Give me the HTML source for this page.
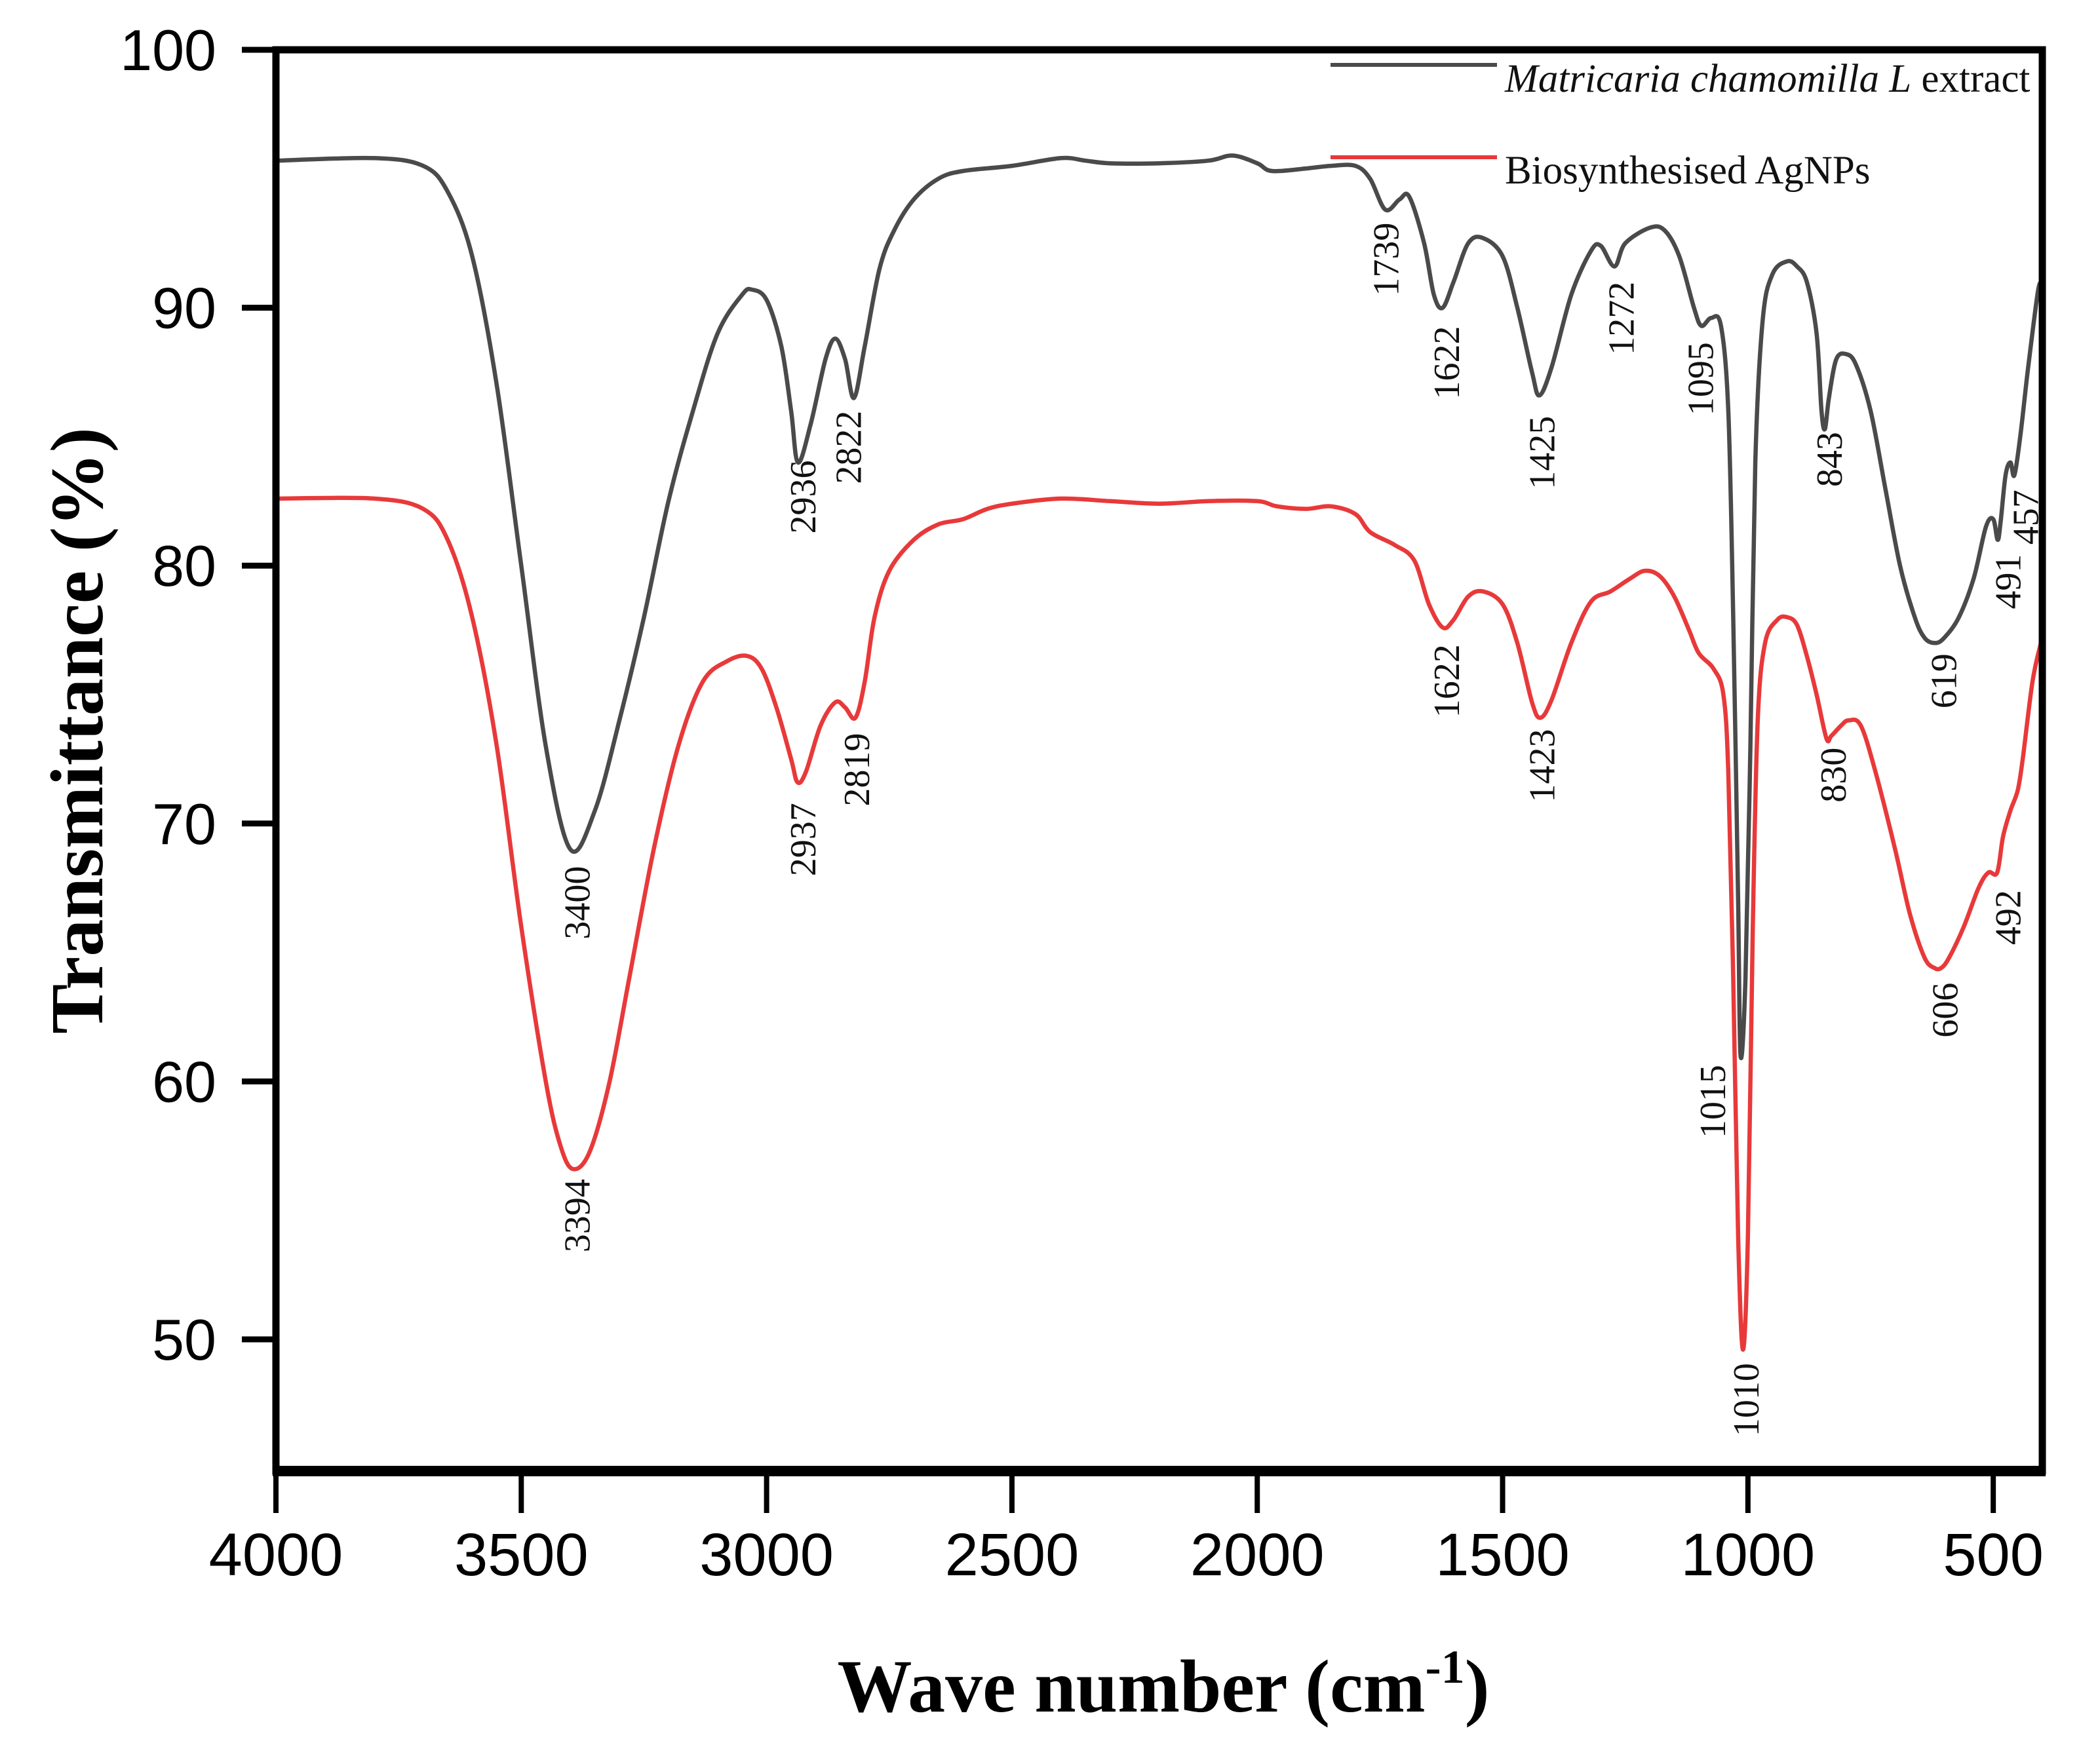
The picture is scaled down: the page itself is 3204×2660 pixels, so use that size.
<!DOCTYPE html>
<html><head><meta charset="utf-8"><style>
html,body{margin:0;padding:0;background:#fff}
svg{display:block}
</style></head><body>
<svg id="chart" width="3204" height="2660" viewBox="0 0 3204 2660" xmlns="http://www.w3.org/2000/svg">
<g id="plot"></g>
<g id="axes"></g>
<g id="labels" font-family="Liberation Serif, serif" font-size="56" fill="#111"></g>
<g>
  <line x1="2030" y1="99" x2="2284" y2="99" stroke="#4a4a4a" stroke-width="6"/>
  <text x="2296" y="140" font-family="Liberation Serif, serif" font-size="61" fill="#111"><tspan font-style="italic">Matricaria chamomilla L</tspan> extract</text>
  <line x1="2030" y1="240" x2="2284" y2="240" stroke="#e8393a" stroke-width="6"/>
  <text x="2296" y="280" font-family="Liberation Serif, serif" font-size="61" fill="#111">Biosynthesised AgNPs</text>
</g>
<text transform="translate(156,1115) rotate(-90)" text-anchor="middle" font-family="Liberation Serif, serif" font-weight="bold" font-size="114" fill="#000">Transmittance (%)</text>
<text x="1775" y="2612" text-anchor="middle" font-family="Liberation Serif, serif" font-weight="bold" font-size="114" fill="#000">Wave number (cm<tspan dy="-44" font-size="72">-1</tspan><tspan dy="44">)</tspan></text>
</svg>
<script>
const xTicks=[4000,3500,3000,2500,2000,1500,1000,500];
const yTicks=[50,60,70,80,90,100];
const extractW=[4000,3800,3700,3650,3600,3550,3500,3450,3400,3350,3300,3250,3200,3150,3100,3050,3030,3000,2970,2950,2936,2910,2880,2860,2840,2822,2800,2770,2740,2700,2650,2600,2500,2400,2350,2300,2200,2100,2050,2000,1970,1900,1850,1800,1770,1739,1710,1690,1660,1640,1622,1600,1570,1540,1500,1470,1440,1425,1400,1360,1320,1300,1272,1250,1200,1170,1140,1110,1095,1075,1055,1040,1030,1020,1015,1005,995,985,970,950,920,900,880,860,850,843,835,820,800,780,750,720,690,660,640,619,600,570,540,515,500,491,485,475,465,457,445,430,410,403];
const extractT=[95.7,95.8,95.5,94.5,92,87,80,73,69,70.5,74,78,82.5,86,89,90.5,90.7,90.3,88.5,86,84,85.5,88,88.8,88,86.5,88.5,91.5,93,94.2,95,95.3,95.5,95.8,95.7,95.6,95.6,95.7,95.9,95.6,95.3,95.4,95.5,95.5,95,93.8,94.2,94.3,92.5,90.5,90,91,92.5,92.7,92,90,87.5,86.6,87.7,90.5,92.2,92.4,91.6,92.5,93.1,93,92,90,89.3,89.6,89.3,86,78,67,61,64,73,84,89.5,91.3,91.8,91.6,91,89,86,85.3,86.5,88,88.2,87.8,86,83,80,78,77.2,77,77.2,78,79.5,81.5,81.8,81,81.7,83.5,84,83.5,85,87.5,90.5,91];
const agnpW=[4000,3800,3700,3650,3600,3550,3500,3450,3420,3394,3360,3320,3280,3230,3180,3130,3080,3040,3010,2980,2950,2937,2920,2890,2860,2840,2819,2800,2780,2750,2700,2650,2600,2550,2500,2400,2300,2200,2100,2000,1960,1900,1850,1800,1770,1720,1680,1650,1622,1600,1570,1540,1500,1470,1440,1423,1400,1360,1320,1280,1240,1210,1180,1150,1120,1100,1070,1050,1040,1030,1020,1010,1000,990,980,965,940,920,900,880,860,840,830,810,795,770,740,700,670,640,620,606,590,560,530,510,492,480,465,450,440,420,403];
const agnpT=[82.6,82.6,82.2,81,78,73,66,60,57.5,56.6,57.3,60,64,69,73,75.5,76.3,76.5,76,74.5,72.5,71.6,72,73.8,74.7,74.5,74.1,75.5,78,79.8,81,81.6,81.8,82.2,82.4,82.6,82.5,82.4,82.5,82.5,82.3,82.2,82.3,82,81.3,80.8,80.2,78.5,77.6,77.9,78.8,79,78.5,77,74.7,74.1,74.8,77,78.6,79,79.5,79.8,79.6,78.8,77.5,76.6,76,75,72,64,54,49.6,54,66,74,77,77.9,78,77.7,76.5,75,73.3,73.4,73.8,74,73.8,72,69,66.5,64.8,64.4,64.4,64.8,66,67.5,68.1,68.1,69.5,70.5,71.3,72.5,75.5,77];
const peakText=["1739","1622","1425","1272","1095","2936","2822","3400","843","619","491","457","3394","2937","2819","1622","1423","830","606","492","1015","1010"];
const peakLabelPos=[[1032,193],[1077,270],[1148,337],[1207,237],[1266,282],[598,370],[632,333],[430,672],[1362,342],[1447,507],[1495,433],[1508,385],[430,905],[598,625],[638,573],[1077,507],[1148,570],[1365,577],[1448,752],[1495,683],[1275,820],[1300,1042]];

const NS="http://www.w3.org/2000/svg";
const L=421,R=3116,T0=76,B=2245,Y50=2044;
const X=w=>L+(4000-w)*(R-L)/3600;
const Y=t=>T0+(100-t)*(Y50-T0)/50;
function mk(tag,attrs,parent){const e=document.createElementNS(NS,tag);for(const k in attrs)e.setAttribute(k,attrs[k]);parent.appendChild(e);return e;}
function smooth(ws,ts){
  const p=ws.map((w,i)=>[X(w),Y(ts[i])]);
  let d="M"+p[0][0].toFixed(1)+","+p[0][1].toFixed(1);
  for(let i=0;i<p.length-1;i++){
    const p0=p[i-1]||p[i],p1=p[i],p2=p[i+1],p3=p[i+2]||p2;
    const c1=[p1[0]+(p2[0]-p0[0])/6,p1[1]+(p2[1]-p0[1])/6];
    const c2=[p2[0]-(p3[0]-p1[0])/6,p2[1]-(p3[1]-p1[1])/6];
    d+="C"+c1[0].toFixed(1)+","+c1[1].toFixed(1)+" "+c2[0].toFixed(1)+","+c2[1].toFixed(1)+" "+p2[0].toFixed(1)+","+p2[1].toFixed(1);
  }
  return d;
}
const plot=document.getElementById('plot');
const s1=mk('path',{d:smooth(extractW,extractT),fill:'none',stroke:'#4a4a4a','stroke-width':6.5,'stroke-linejoin':'round'},plot);


const s2=mk('path',{d:smooth(agnpW,agnpT),fill:'none',stroke:'#e8393a','stroke-width':6.5,'stroke-linejoin':'round'},plot);



const axes=document.getElementById('axes');
const frame=mk('rect',{x:L,y:T0,width:R-L,height:B-T0,fill:'none',stroke:'#000','stroke-width':11},axes);


const bax=mk('line',{x1:L-5,y1:B,x2:R+5,y2:B,stroke:'#000','stroke-width':16},axes);


xTicks.forEach(v=>{
  const t=mk('line',{x1:X(v),y1:B,x2:X(v),y2:B+64,stroke:'#000','stroke-width':8},axes);
  
  
  const lb=mk('text',{x:X(v),y:2404,'text-anchor':'middle','font-family':'Liberation Sans, sans-serif','font-size':92,fill:'#000'},axes);
  lb.textContent=v;
  
  
});
yTicks.forEach(v=>{
  const t=mk('line',{x1:L-52,y1:Y(v),x2:L,y2:Y(v),stroke:'#000','stroke-width':9},axes);
  
  
  const lb=mk('text',{x:330,y:Y(v)+31,'text-anchor':'end','font-family':'Liberation Sans, sans-serif','font-size':88,fill:'#000'},axes);
  lb.textContent=v;
  
  
});
const labels=document.getElementById('labels');
peakText.forEach((s,i)=>{
  const x=peakLabelPos[i][0]*2.05,y=peakLabelPos[i][1]*2.05;
  const t=mk('text',{transform:`translate(${x.toFixed(1)},${y.toFixed(1)}) rotate(-90)`,'text-anchor':'middle','dominant-baseline':'central'},labels);
  t.textContent=s;
  
  
});
</script>
</body></html>
